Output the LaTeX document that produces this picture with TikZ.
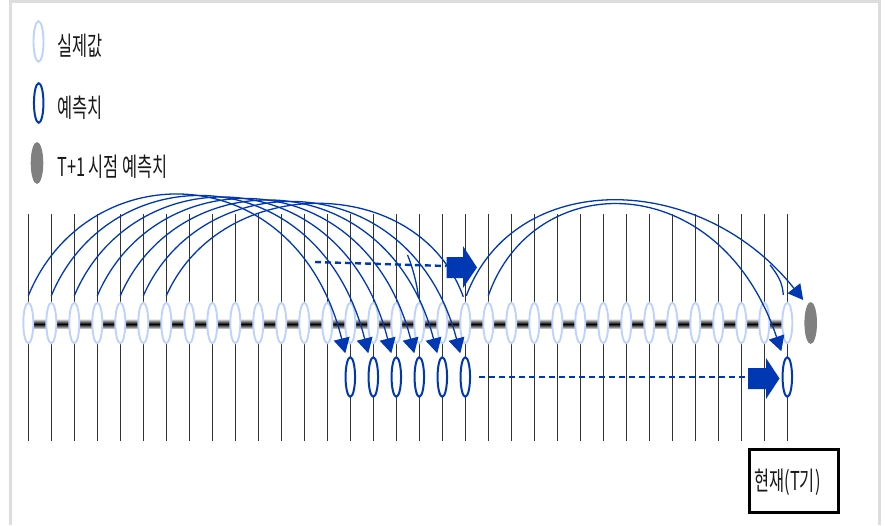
\documentclass[tikz,border=0pt]{standalone}
\usepackage{fontspec}
\newfontfamily\kr[FakeStretch=0.63]{Noto Sans CJK KR}
\usetikzlibrary{arrows.meta,shapes.geometric}
\definecolor{arcblue}{RGB}{0,56,180}
\definecolor{lightblue}{RGB}{190,210,255}
\definecolor{vline}{RGB}{50,50,50}
\definecolor{framegray}{RGB}{221,221,221}
\definecolor{gray50}{RGB}{128,128,128}
\begin{document}
\begin{tikzpicture}[x=1pt,y=-1pt,
  vl/.style={draw=vline,line width=1.1pt},
  actual/.style={ellipse,draw=lightblue,line width=1.9pt,fill=white,minimum width=10pt,minimum height=40.5pt,inner sep=0pt},
  pred/.style={ellipse,draw=arcblue,line width=2pt,fill=white,minimum width=9.5pt,minimum height=39.5pt,inner sep=0pt},
  tpone/.style={ellipse,fill=gray50,minimum width=12.6pt,minimum height=42pt,inner sep=0pt},
  arc/.style={draw=arcblue,line width=1.3pt},
  arcarrow/.style={arc,-{Triangle[length=15pt,width=16pt]}},
  dashline/.style={draw=arcblue,line width=2.4pt,dash pattern=on 6pt off 4pt},
  lab/.style={font=\kr\fontsize{26}{30}\selectfont,anchor=west,inner sep=0pt,text=black!90}
]
\useasboundingbox (0,0) rectangle (885,525);
% frame
\draw[framegray,line width=3pt] (10.5,525) -- (10.5,1.5) -- (879.5,1.5) -- (879.5,525);

% legend
\node[actual] (la) at (38.5,41.5) {};
\node[lab] (lt1) at (57,45.5) {실제값};
\node[pred] (lp) at (38.7,103) {};
\node[lab] (lt2) at (57,107.5) {예측치};
\node[tpone] (lg) at (37,163) {};
\node[lab] (lt3) at (57,166.5) {T+1 시점 예측치};

% vertical grid lines
\foreach \i in {0,...,33}{
  \pgfmathsetmacro\xx{28.3+23*\i}
  \draw[vl] (\xx,214) -- (\xx,440.5);
}
% bar
\shade[top color=gray!35,bottom color=gray!35,middle color=black] (28,319.5) rectangle (787,328.5);

% actual values
\foreach \i in {0,...,33}{
  \pgfmathsetmacro\xx{28.3+23*\i}
  \node[actual] (a\i) at (\xx,323) {};
}
% predictions
\foreach \i in {14,15,16,17,18,19,33}{
  \pgfmathsetmacro\xx{28.3+23*\i}
  \node[pred] (p\i) at (\xx,377) {};
}
\node[tpone] (g) at (810.7,323) {};

% left arcs
\foreach \i in {0,...,5}{
  \pgfmathtruncatemacro\j{\i+14}
  \pgfmathsetmacro\ca{154+2*\i-296}
  \pgfmathsetmacro\cb{154+2*\i-354}
  \draw[arcarrow] ([yshift=6pt]a\i.north) .. controls +(58,\ca) and +(-50,\cb) .. ([xshift=-5pt,yshift=3pt]p\j.north) coordinate[pos=0.78] (m\i);
}
\draw[arc] (m5) .. controls +(5,12) and +(-1,-12) .. ([xshift=-1pt,yshift=5pt]a17.north);
\draw[arc] ([yshift=6pt]a6.north) .. controls +(55,-124) and +(-45,-124) .. ([xshift=-2pt,yshift=5pt]a19.north);

% right arcs
\draw[arcarrow] ([xshift=1pt,yshift=6pt]a19.north) .. controls +(48,-128) and +(-103,-130) .. ([xshift=-7.5pt,yshift=23pt]g.center) coordinate[pos=0.9] (rb);
\draw[arc] (rb) .. controls +(9,12) and +(-1,-12) .. ([xshift=-4pt,yshift=7pt]a33.north);
\draw[arcarrow] ([yshift=6pt]a20.north) .. controls +(45,-129) and +(-62,-185) .. ([xshift=-6pt,yshift=5pt]p33.north);

% upper dashed + block arrow
\coordinate (u0) at (315,262);
\coordinate (u1) at (446.5,266);
\draw[dashline] (u0) -- (u1);
\fill[arcblue] (446.5,257) -- (463,257) -- (463,246) -- (477,267.5) -- (463,288) -- (463,278) -- (446.5,278) -- cycle;

% lower dashed + block arrow
\coordinate (d0) at (479,377);
\coordinate (d1) at (748,377);
\draw[dashline] (d0) -- (d1);
\fill[arcblue] (748,368) -- (766,368) -- (766,358) -- (779.5,378.5) -- (766,399) -- (766,389) -- (748,389) -- cycle;

% current box
\node[draw=black,line width=2.5pt,minimum width=89pt,minimum height=63.4pt,inner sep=0pt] (now) at (793.8,481) {};
\node[lab,anchor=center] (nowt) at (787.5,482) {현재(T기)};
\end{tikzpicture}
\end{document}
